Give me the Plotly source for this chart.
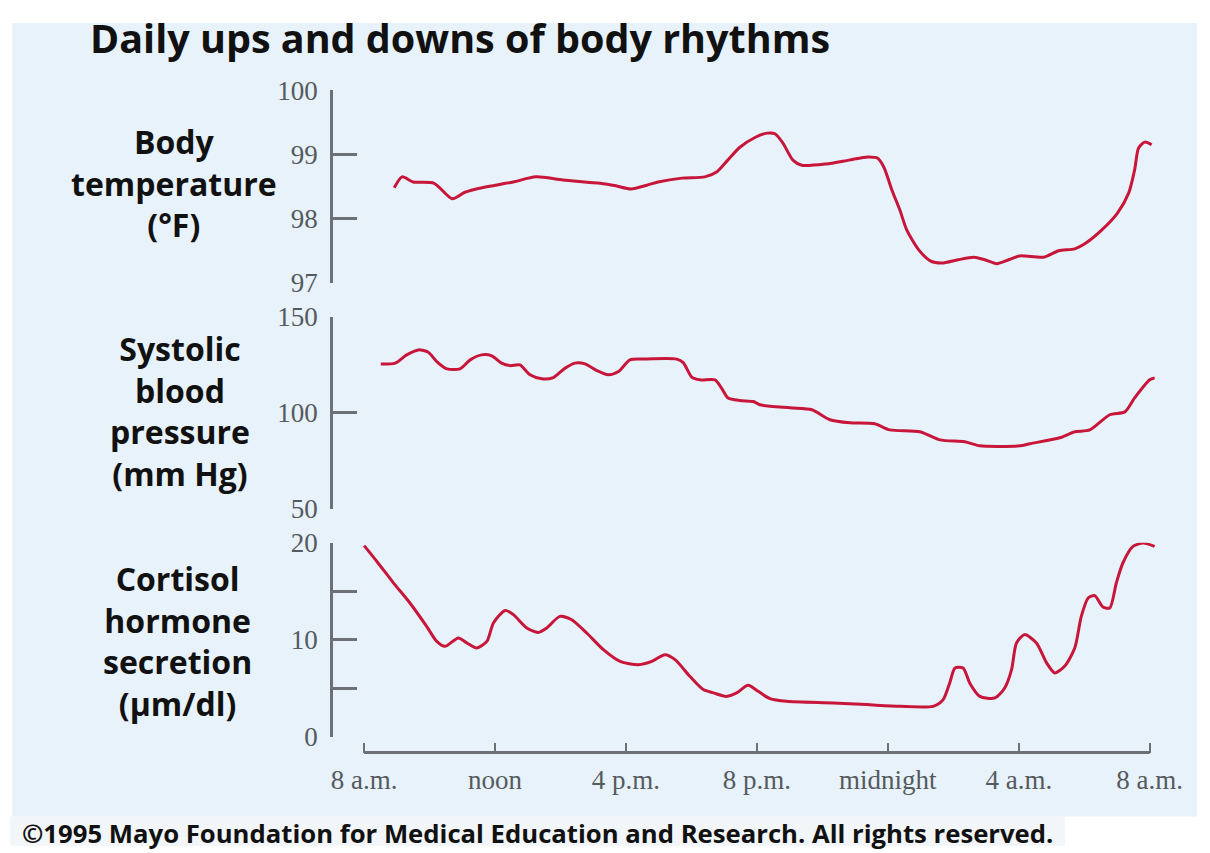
import plotly.graph_objects as go

# ---------------- data ----------------
hour_ticks = [0, 4, 8, 12, 16, 20, 24]
hour_labels = ["8 a.m.", "noon", "4 p.m.", "8 p.m.", "midnight", "4 a.m.", "8 a.m."]

temp_hours = [0.92, 1.16, 1.50, 2.14, 2.69, 3.08, 3.60, 4.55, 5.25, 6.08, 7.21, 7.69, 8.15,
              8.64, 8.98, 9.71, 10.41, 10.78, 11.11, 11.48, 11.97, 12.31, 12.55, 12.79,
              13.10, 13.37, 14.11, 14.81, 15.39, 15.69, 15.88, 16.12, 16.37, 16.58, 16.95,
              17.31, 17.65, 18.14, 18.63, 18.96, 19.33, 19.69, 20.03, 20.76, 21.22, 21.71,
              22.05, 22.53, 23.02, 23.36, 23.54, 23.66, 23.85, 24.06]
temp_values = [98.48, 98.65, 98.57, 98.55, 98.31, 98.41, 98.48, 98.57, 98.65, 98.60, 98.55,
               98.51, 98.46, 98.52, 98.57, 98.63, 98.65, 98.73, 98.91, 99.11, 99.27, 99.33,
               99.32, 99.18, 98.91, 98.83, 98.85, 98.91, 98.96, 98.94, 98.80, 98.45, 98.13,
               97.82, 97.51, 97.34, 97.31, 97.36, 97.40, 97.36, 97.30, 97.36, 97.42, 97.40,
               97.50, 97.53, 97.62, 97.82, 98.09, 98.40, 98.76, 99.10, 99.19, 99.15]

bp_hours = [0.51, 0.95, 1.30, 1.66, 1.96, 2.22, 2.53, 2.93, 3.24, 3.59, 3.90, 4.20, 4.46,
            4.76, 5.07, 5.43, 5.78, 6.14, 6.44, 6.75, 7.11, 7.46, 7.77, 8.12, 8.53, 9.55,
            9.75, 10.01, 10.26, 10.72, 10.92, 11.12, 11.48, 11.89, 12.09, 13.01, 13.68,
            14.23, 14.84, 15.60, 16.06, 16.98, 17.59, 18.35, 18.81, 20.03, 20.34, 21.25,
            21.71, 22.17, 22.78, 23.24, 23.54, 24.00, 24.15]
bp_values = [125.4, 125.9, 130.2, 132.8, 131.6, 126.7, 122.9, 122.9, 127.6, 130.2, 129.7,
             125.9, 124.6, 125.0, 119.8, 117.7, 118.4, 123.3, 125.9, 125.5, 122.0, 119.8,
             121.5, 127.6, 128.0, 128.0, 126.2, 118.6, 117.2, 117.2, 112.9, 107.7, 106.4,
             105.9, 104.2, 102.6, 101.6, 96.4, 94.8, 94.3, 91.1, 90.1, 85.9, 84.9, 82.8,
             82.8, 83.9, 87.0, 90.1, 91.1, 99.0, 100.5, 107.8, 117.2, 118.2]

cort_hours = [0.0, 0.39, 0.90, 1.40, 1.91, 2.22, 2.47, 2.88, 3.14, 3.44, 3.75, 3.95, 4.31,
              4.56, 4.97, 5.32, 5.58, 5.98, 6.34, 6.80, 7.31, 7.82, 8.38, 8.79, 9.19, 9.50,
              9.95, 10.36, 10.67, 11.07, 11.38, 11.73, 12.04, 12.40, 12.91, 14.33, 15.35,
              16.37, 17.38, 17.69, 17.89, 18.05, 18.30, 18.50, 18.81, 19.27, 19.57, 19.78,
              19.93, 20.18, 20.54, 20.85, 21.10, 21.40, 21.71, 21.91, 22.12, 22.32, 22.57,
              22.78, 22.98, 23.18, 23.49, 23.80, 24.15]
cort_values = [19.7, 18.07, 15.84, 13.78, 11.37, 9.82, 9.31, 10.18, 9.66, 9.14, 9.82, 11.72,
               13.02, 12.58, 11.21, 10.75, 11.21, 12.40, 12.06, 10.69, 8.97, 7.76, 7.42,
               7.76, 8.45, 7.94, 6.22, 4.85, 4.51, 4.15, 4.51, 5.29, 4.67, 3.92, 3.64, 3.47,
               3.30, 3.12, 3.12, 3.81, 5.54, 7.08, 7.08, 5.54, 4.15, 3.99, 5.02, 6.91, 9.66,
               10.52, 9.66, 7.60, 6.57, 7.25, 9.14, 12.40, 14.30, 14.54, 13.37, 13.27, 15.85,
               17.91, 19.62, 19.97, 19.62]

temp_ticks = [97, 98, 99, 100]
bp_ticks = [50, 100, 150]
cort_ticks = [0, 5, 10, 15, 20]
cort_tick_labels = ["0", "", "10", "", "20"]

title_text = "Daily ups and downs of body rhythms"
temp_label = ["Body", "temperature", "(°F)"]
bp_label = ["Systolic", "blood", "pressure", "(mm Hg)"]
cort_label = ["Cortisol", "hormone", "secretion", "(µm/dl)"]
footer_text = "©1995 Mayo Foundation for Medical Education and Research. All rights reserved."

# ---------------- styling ----------------
W, H = 1210, 853
RED = "#c8163a"
AXIS = "#6b7176"
PANEL = "#e7f2fa"
TICKFONT = dict(family="Liberation Serif", size=27, color="#555a5e")
LABELFONT = dict(family="Open Sans", size=32, color="#111111")

# layout positions are given in picture pixels and converted to paper fractions
SX, DX = 0.9815, 9.7
SY, DY = 0.9655, 22.9


def fx(p):
    return min(max((p - DX) / SX / W, 0.0), 1.0)


def fy(p):
    return min(max(1 - (p - DY) / SY / H, 0.0), 1.0)


px_per_hour = (1150 - 364) / 24.0
x_left = -(364 - 333) / px_per_hour
x_right = 24 + (1162 - 1150) / px_per_hour

fig = go.Figure()
line_style = dict(color=RED, width=3, shape="spline", smoothing=0.7)
fig.add_trace(go.Scatter(x=temp_hours, y=temp_values, xaxis="x", yaxis="y",
                         mode="lines", line=line_style, hoverinfo="skip"))
fig.add_trace(go.Scatter(x=bp_hours, y=bp_values, xaxis="x", yaxis="y2",
                         mode="lines", line=line_style, hoverinfo="skip"))
fig.add_trace(go.Scatter(x=cort_hours, y=cort_values, xaxis="x", yaxis="y3",
                         mode="lines", line=line_style, hoverinfo="skip"))

yaxis_common = dict(anchor="x", showgrid=False, zeroline=False, showline=True,
                    linecolor=AXIS, linewidth=3, ticks="inside", ticklen=23.5,
                    tickwidth=3, tickcolor=AXIS, tickfont=TICKFONT,
                    ticklabelstandoff=7, fixedrange=True)

fig.update_layout(
    width=W, height=H, margin=dict(l=0, r=0, t=0, b=0),
    paper_bgcolor="white", plot_bgcolor="rgba(0,0,0,0)",
    showlegend=False,
    xaxis=dict(domain=[fx(333), fx(1162)], range=[x_left, x_right],
               anchor="free", position=fy(753), showgrid=False, zeroline=False,
               showline=False, ticks="inside", ticklen=10, tickwidth=2,
               tickcolor=AXIS, tickvals=hour_ticks, ticktext=hour_labels,
               tickfont=TICKFONT, ticklabelstandoff=8, fixedrange=True),
    yaxis=dict(domain=[fy(283), fy(90)], range=[97, 100], tickvals=temp_ticks,
               **yaxis_common),
    yaxis2=dict(domain=[fy(509), fy(317)], range=[50, 150], tickvals=bp_ticks,
                **yaxis_common),
    yaxis3=dict(domain=[fy(737), fy(543)], range=[0, 20], tickvals=cort_ticks,
                ticktext=cort_tick_labels, **yaxis_common),
)

shapes = [
    dict(type="rect", xref="paper", yref="paper", x0=fx(12), x1=fx(1205),
         y0=fy(817), y1=fy(5), fillcolor=PANEL, line=dict(width=0), layer="below"),
    dict(type="rect", xref="paper", yref="paper", x0=fx(0), x1=fx(1065),
         y0=fy(853), y1=fy(817), fillcolor="#f2f6f9", line=dict(width=0), layer="below"),
    dict(type="line", xref="x", yref="paper", x0=hour_ticks[0], x1=hour_ticks[-1],
         y0=fy(753), y1=fy(753), line=dict(color=AXIS, width=3), layer="above"),
]
fig.update_layout(shapes=shapes)

ann = [dict(text="<b>" + title_text + "</b>", x=fx(88), y=fy(38), xanchor="left",
            yanchor="middle", font=dict(family="Open Sans", size=39.5, color="#111111"))]
ann.append(dict(text="<br>".join("<b>" + t + "</b>" for t in temp_label),
                x=fx(174), y=fy(183), xanchor="center", yanchor="middle",
                align="center", font=LABELFONT))
ann.append(dict(text="<br>".join("<b>" + t + "</b>" for t in bp_label),
                x=fx(180), y=fy(411), xanchor="center", yanchor="middle",
                align="center", font=LABELFONT))
ann.append(dict(text="<br>".join("<b>" + t + "</b>" for t in cort_label),
                x=fx(177), y=fy(641), xanchor="center", yanchor="middle",
                align="center", font=LABELFONT))
ann.append(dict(text="<b>" + footer_text + "</b>", x=fx(20), y=fy(834), xanchor="left",
                yanchor="middle", font=dict(family="Open Sans", size=25.7, color="#111111")))
for a in ann:
    a.update(xref="paper", yref="paper", showarrow=False)
fig.update_layout(annotations=ann)

fig.write_html("out.html", config={"displayModeBar": False, "staticPlot": True})
